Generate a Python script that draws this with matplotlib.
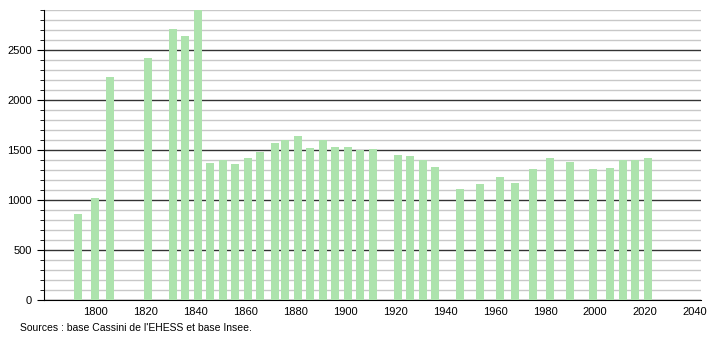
import matplotlib
matplotlib.use("Agg")
import matplotlib.pyplot as plt
from matplotlib.ticker import MultipleLocator

years = [1793, 1800, 1806, 1821, 1831, 1836, 1841, 1846, 1851, 1856, 1861, 1866,
         1872, 1876, 1881, 1886, 1891, 1896, 1901, 1906, 1911, 1921, 1926, 1931,
         1936, 1946, 1954, 1962, 1968, 1975, 1982, 1990, 1999, 2006, 2011, 2016, 2021]
population = [860, 1020, 2227, 2417, 2710, 2640, 2900, 1370, 1400, 1360, 1420, 1480,
              1567, 1600, 1640, 1520, 1600, 1530, 1530, 1500, 1510, 1447, 1440, 1400,
              1330, 1110, 1160, 1230, 1170, 1310, 1420, 1380, 1310, 1320, 1400, 1400, 1420]
x_ticks = [1800, 1820, 1840, 1860, 1880, 1900, 1920, 1940, 1960, 1980, 2000, 2020, 2040]
y_ticks = [0, 500, 1000, 1500, 2000, 2500]
source_text = "Sources : base Cassini de l'EHESS et base Insee."

plt.rcParams['font.family'] = ['Liberation Sans', 'DejaVu Sans']

fig = plt.figure(figsize=(7.1, 3.4), dpi=100)
ax = fig.add_axes([44/710, 40/340, (701-44)/710, 290/340])

ax.bar(years, population, width=3.2, color='#ade3ad', zorder=3)

ax.set_xlim(1779.6, 2042.3)
ax.set_ylim(0, 2900)
ax.set_xticks(x_ticks)
ax.set_yticks(y_ticks)
ax.yaxis.set_minor_locator(MultipleLocator(100))
ax.grid(axis='y', which='major', color='#333333', linewidth=1.0, zorder=1)
ax.grid(axis='y', which='minor', color='#c8c8c8', linewidth=1.0, zorder=1)
for s in ['top', 'right']:
    ax.spines[s].set_visible(False)
ax.spines['left'].set_color('black')
ax.spines['bottom'].set_color('black')
ax.tick_params(axis='x', length=0, labelsize=8, pad=5)
ax.tick_params(axis='y', which='major', length=5, labelsize=8)
ax.tick_params(axis='y', which='minor', length=3)

fig.text(20/710, 1 - 328/340, source_text, fontsize=7.5, va='center', ha='left')

fig.savefig("out.png", dpi=100)
